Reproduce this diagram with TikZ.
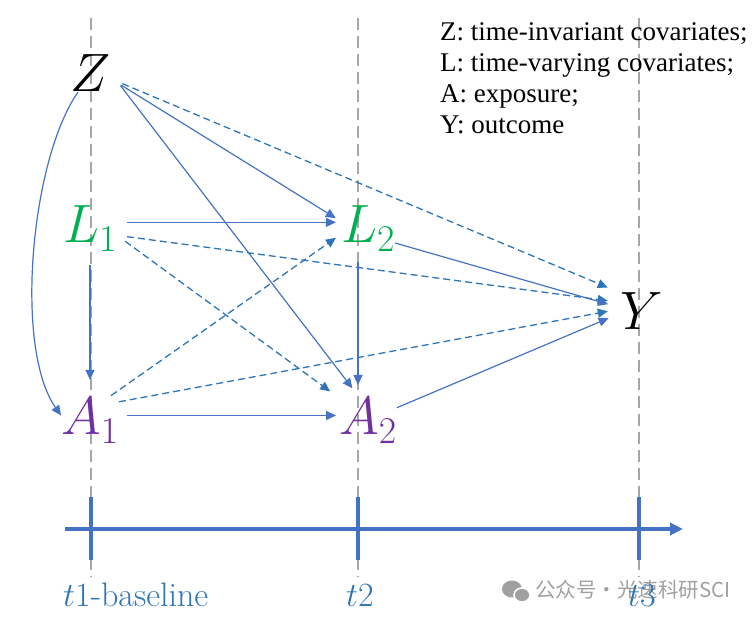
\RequirePackage{fix-cm}
\documentclass[tikz,border=0pt]{standalone}
\usepackage{fontspec}
\newfontfamily\legendfont{Liberation Serif}
\newfontfamily\markfont{Noto Sans CJK SC}
\usetikzlibrary{arrows.meta, positioning, calc}
\definecolor{covgreen}{HTML}{00B050}
\definecolor{exppurple}{HTML}{7030A0}
\definecolor{arrowblue}{HTML}{4472C4}
\definecolor{dashblue}{HTML}{2E75B6}
\definecolor{axisblue}{HTML}{4472C4}
\definecolor{timeblue}{HTML}{2E75B6}
\definecolor{guidegray}{HTML}{A6A6A6}
\definecolor{markgray}{HTML}{A0A0A0}
\tikzset{
  varnode/.style={
    font=\fontsize{54}{60}\selectfont,
    inner sep=0pt, anchor=base,
  },
  covnode/.style={varnode, text=covgreen},
  expnode/.style={varnode, text=exppurple},
  eff/.style={-{Triangle[length=10pt,width=9pt]}, arrowblue, line width=1.2pt},
  effdash/.style={-{Triangle[length=10pt,width=9pt]}, dashblue, line width=1.3pt,
    dash pattern=on 7pt off 4pt},
  guide/.style={guidegray, line width=1.3pt, dash pattern=on 12pt off 6pt},
  timeaxis/.style={-{Triangle[length=13pt,width=12pt]}, axisblue, line width=4pt},
  timetick/.style={axisblue, line width=4.5pt},
  timelabel/.style={
    text=timeblue, font=\fontsize{34}{40}\selectfont,
    inner sep=0pt, anchor=base,
  },
  keytext/.style={
    font=\legendfont\fontsize{27}{31}\selectfont,
    align=left, inner sep=0pt, anchor=base west,
  },
  marktext/.style={
    text=markgray, font=\markfont\fontsize{20.5}{24}\selectfont,
    inner sep=0pt, anchor=west,
  },
}
\begin{document}
\begin{tikzpicture}[x=1pt, y=1pt]
  \useasboundingbox (0,0) rectangle (756,619);

  % Time guides
  \draw[guide] (91,601) -- (91,42);
  \draw[guide] (358,601) -- (358,42);
  \draw[guide] (639,601) -- (639,42);

  % Variables
  \node[varnode] (Z) at (91,527) {$Z$};
  \node[covnode] (L1) at (90,376) {$L_1$};
  \node[covnode] (L2) at (368,376) {$L_2$};
  \node[expnode] (A1) at (90,184) {$A_1$};
  \node[expnode] (A2) at (368,184) {$A_2$};
  \node[varnode] (Y) at (642,289) {$Y$};

  % Legend (base = last line)
  \node[keytext] (key) at (440,485)
    {Z: time-invariant covariates;\\L: time-varying covariates;\\A: exposure;\\Y: outcome};

  % Effects of Z
  \draw[eff, shorten <=12pt, shorten >=6pt] (Z.-15) -- (L2.165);
  \draw[eff, shorten <=15pt, shorten >=12pt] (Z.east) -- (A2.110);
  \draw[effdash, shorten <=12pt, shorten >=14pt] (Z.-15) -- (Y.139);
  \draw[eff] (Z) to[out=235, in=125, looseness=0.65] (A1.170);

  % Effects of L1
  \draw[eff, shorten <=10pt, shorten >=5pt] (L1.13) -- (L2.167);
  \draw[eff, shorten <=14pt, shorten >=18pt] (L1.south) -- (A1.north);
  \draw[effdash, shorten <=10pt, shorten >=13pt] (L1.-14) -- (Y.157);
  \draw[effdash, shorten <=10pt, shorten >=11pt] (L1.-14) -- (A2.north west);

  % Effects of L2
  \draw[eff, shorten <=11pt, shorten >=13pt] ([xshift=-10pt]L2.south) -- ([xshift=-10pt]A2.north);
  \draw[eff, shorten >=13pt] (L2.-28) -- (Y.170);

  % Effects of A1
  \draw[effdash, shorten <=4pt, shorten >=6pt] (A1.52) -- (L2.-168);
  \draw[effdash, shorten >=13pt] (A1.33) -- (Y.173);
  \draw[eff, shorten <=8pt, shorten >=3pt] (A1.10) -- (A2.170);

  % Effect of A2
  \draw[eff, shorten >=13pt] (A2.24) -- (Y.-176);

  % Time axis
  \coordinate (tstart) at (65,90);
  \coordinate (tend) at (683,90);
  \coordinate (t1) at (91,90);
  \coordinate (t2) at (358,90);
  \coordinate (t3) at (639,90);
  \draw[timeaxis] (tstart) -- (tend);
  \draw[timetick] ([yshift=32pt]t1) -- ([yshift=-31pt]t1);
  \draw[timetick] ([yshift=32pt]t2) -- ([yshift=-31pt]t2);
  \draw[timetick] ([yshift=32pt]t3) -- ([yshift=-31pt]t3);

  % Watermark
  \fill[markgray] (512,30) ellipse (10pt and 8.5pt);
  \filldraw[fill=markgray, draw=white, line width=1.5pt] (522,24) ellipse (8pt and 7pt);
  \node[marktext] (mark) at (535,29) {公众号·光速科研SCI};

  % Time labels
  \node[timelabel, anchor=base west] (lab1) at (63,12) {$t$1-baseline};
  \node[timelabel] (lab2) at (360,12) {$t$2};
  \node[timelabel] (lab3) at (642,12) {$t$3};

\end{tikzpicture}
\end{document}
